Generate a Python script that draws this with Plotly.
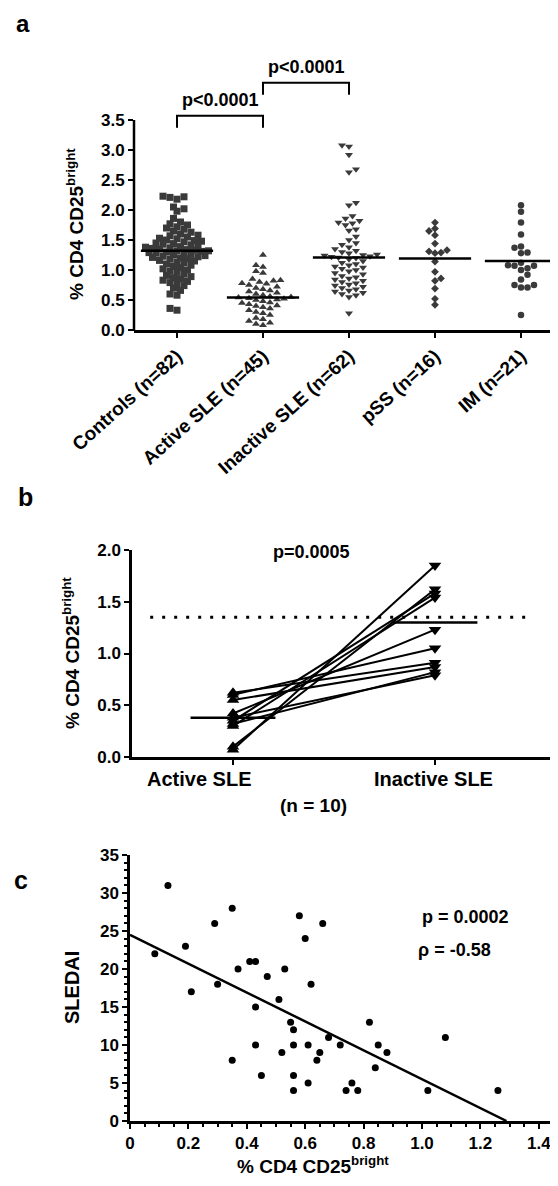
import plotly.graph_objects as go

# ---------------- data ----------------
categories_a = ["Controls (n=82)", "Active SLE (n=45)", "Inactive SLE (n=62)", "pSS (n=16)", "IM (n=21)"]
controls = [2.23, 2.22, 2.21, 2.18, 2.05, 2.02, 1.98, 1.86, 1.80, 1.77,
            1.75, 1.72, 1.70, 1.68, 1.65, 1.63, 1.60, 1.58, 1.57, 1.55,
            1.53, 1.52, 1.50, 1.49, 1.48, 1.47, 1.45, 1.44, 1.43, 1.42,
            1.40, 1.39, 1.38, 1.37, 1.36, 1.35, 1.34, 1.33, 1.32, 1.32,
            1.31, 1.30, 1.29, 1.28, 1.27, 1.26, 1.25, 1.24, 1.23, 1.22,
            1.21, 1.20, 1.19, 1.18, 1.16, 1.15, 1.13, 1.12, 1.10, 1.08,
            1.06, 1.04, 1.02, 1.00, 0.98, 0.96, 0.93, 0.91, 0.89, 0.87,
            0.85, 0.83, 0.81, 0.79, 0.77, 0.74, 0.70, 0.66, 0.60, 0.58,
            0.36, 0.33]
active_sle = [1.25, 1.08, 1.05, 0.98, 0.95, 0.85, 0.83, 0.82, 0.80, 0.78,
              0.77, 0.75, 0.72, 0.70, 0.68, 0.66, 0.64, 0.62, 0.60, 0.58,
              0.56, 0.55, 0.54, 0.53, 0.52, 0.51, 0.50, 0.48, 0.46, 0.45,
              0.43, 0.41, 0.40, 0.38, 0.36, 0.33, 0.30, 0.28, 0.25, 0.20,
              0.18, 0.15, 0.12, 0.10, 0.08]
inactive_sle = [3.08, 3.06, 2.92, 2.68, 2.63, 2.12, 2.08, 1.90, 1.86, 1.82,
                1.79, 1.78, 1.75, 1.68, 1.66, 1.56, 1.50, 1.45, 1.42, 1.38,
                1.35, 1.32, 1.30, 1.28, 1.26, 1.25, 1.24, 1.23, 1.22, 1.21,
                1.20, 1.18, 1.15, 1.12, 1.10, 1.08, 1.06, 1.04, 1.02, 1.00,
                0.98, 0.95, 0.93, 0.90, 0.88, 0.86, 0.84, 0.82, 0.80, 0.78,
                0.76, 0.74, 0.72, 0.70, 0.68, 0.66, 0.64, 0.62, 0.60, 0.58,
                0.55, 0.28]
pss = [1.79, 1.69, 1.65, 1.58, 1.44, 1.33, 1.31, 1.29, 1.28, 1.14,
       0.97, 0.86, 0.82, 0.69, 0.52, 0.42]
im = [2.08, 1.97, 1.79, 1.59, 1.39, 1.37, 1.29, 1.28, 1.12, 1.08,
      1.07, 1.07, 1.03, 1.00, 0.92, 0.84, 0.75, 0.75, 0.71, 0.71, 0.25]
medians_a = [1.32, 0.54, 1.21, 1.19, 1.15]
yticks_a = [0.0, 0.5, 1.0, 1.5, 2.0, 2.5, 3.0, 3.5]

categories_b = ["Active SLE", "Inactive SLE"]
paired_active = [0.62, 0.60, 0.55, 0.42, 0.38, 0.35, 0.32, 0.30, 0.10, 0.07]
paired_inactive = [0.91, 1.05, 0.87, 1.23, 0.79, 1.58, 0.82, 1.54, 1.62, 1.85]
medians_b = [0.38, 1.30]
control_median_b = 1.35
yticks_b = [0.0, 0.5, 1.0, 1.5, 2.0]

cd4_bright = [0.085, 0.13, 0.19, 0.21, 0.29, 0.30, 0.35, 0.35, 0.37, 0.41,
              0.43, 0.43, 0.43, 0.45, 0.47, 0.51, 0.52, 0.53, 0.55, 0.56,
              0.56, 0.56, 0.56, 0.58, 0.60, 0.61, 0.61, 0.62, 0.64, 0.65,
              0.66, 0.68, 0.72, 0.74, 0.76, 0.78, 0.82, 0.84, 0.85, 0.88,
              1.02, 1.08, 1.26]
sledai = [22, 31, 23, 17, 26, 18, 28, 8, 20, 21,
          21, 15, 10, 6, 19, 16, 9, 20, 13, 12,
          10, 6, 4, 27, 24, 10, 5, 18, 8, 9,
          26, 11, 10, 4, 5, 4, 13, 7, 10, 9,
          4, 11, 4]
fit_intercept = 24.5
fit_slope = -19.0
xticks_c = [0, 0.2, 0.4, 0.6, 0.8, 1.0, 1.2, 1.4]
yticks_c = [0, 5, 10, 15, 20, 25, 30, 35]

# ---------------- layout helpers ----------------
W, H = 558, 1186
OFF = 8  # page body margin: figure is drawn 8px right/down of the window corner
FONT = "Liberation Sans, Arial, sans-serif"
def fx(p):
    return (p - OFF) / W
def fy(p):
    return 1 - (p - OFF) / H

# panel a geometry (window pixels)
A_LEFT, A_RIGHT, A_CAT0, A_UNIT = 134, 566, 177, 86.0
A_Y0, A_YU, A_TOP = 330, 60.0, 4.6
# panel b geometry
B_LEFT, B_RIGHT, B_CAT0, B_UNIT = 132, 566, 233, 202.0
B_Y0, B_Y2 = 757, 550
# panel c geometry
C_LEFT, C_RIGHT, C_UNIT = 130, 560, 292.0
C_Y0, C_Y35 = 1121, 855


def swarm(vals, xscale, yscale, diam, fac):
    placed = []
    offs = [0.0] * len(vals)
    order = sorted(range(len(vals)), key=lambda i: vals[i])
    step = diam * 0.5
    for n, i in enumerate(order):
        yp = vals[i] * yscale
        k = 0
        chosen = None
        while chosen is None:
            cands = [0.0] if k == 0 else ([k * step, -k * step] if n % 2 == 0 else [-k * step, k * step])
            for c in cands:
                if all((c - a) ** 2 + (yp - b) ** 2 >= (diam * fac) ** 2 for a, b in placed):
                    chosen = c
                    break
            k += 1
        placed.append((chosen, yp))
        offs[i] = chosen / xscale
    return offs


fig = go.Figure()

# ---------------- panel a ----------------
groups = [controls, active_sle, inactive_sle, pss, im]
symbols = ["square", "triangle-up", "triangle-down", "diamond", "circle"]
sizes = [7, 7, 7, 6, 6.5]
facs = [0.78, 0.85, 0.85, 1.0, 1.0]
for gi, vals in enumerate(groups):
    offs = swarm(vals, A_UNIT, A_YU, sizes[gi], facs[gi])
    fig.add_trace(go.Scatter(
        x=[gi + o for o in offs], y=vals, mode="markers",
        marker=dict(symbol=symbols[gi], size=sizes[gi], color="#3a3a3a", line=dict(width=0)),
        xaxis="x", yaxis="y", showlegend=False, hoverinfo="skip"))
    fig.add_trace(go.Scatter(
        x=[gi - 0.42, gi + 0.42], y=[medians_a[gi]] * 2, mode="lines",
        line=dict(color="black", width=2.5), xaxis="x", yaxis="y",
        showlegend=False, hoverinfo="skip"))

# brackets
for (c0, c1, ytop, ylab) in [(0, 1, 3.57, 3.83), (1, 2, 4.12, 4.38)]:
    fig.add_trace(go.Scatter(
        x=[c0, c0, c1, c1], y=[ytop - 0.2, ytop, ytop, ytop - 0.2], mode="lines",
        line=dict(color="black", width=2), xaxis="x", yaxis="y",
        showlegend=False, hoverinfo="skip"))
    fig.add_annotation(x=(c0 + c1) / 2, y=ylab, xref="x", yref="y", text="p<0.0001",
                       showarrow=False, font=dict(family=FONT, size=18, color="black", weight="bold"))

# ---------------- panel b ----------------
for a, b in zip(paired_active, paired_inactive):
    fig.add_trace(go.Scatter(
        x=[0, 1], y=[a, b], mode="lines+markers",
        line=dict(color="black", width=2),
        marker=dict(symbol=["triangle-up", "triangle-down"], size=11, color="black"),
        xaxis="x2", yaxis="y2", showlegend=False, hoverinfo="skip"))
for ci, m in enumerate(medians_b):
    fig.add_trace(go.Scatter(
        x=[ci - 0.21, ci + 0.21], y=[m, m], mode="lines",
        line=dict(color="black", width=2.5), xaxis="x2", yaxis="y2",
        showlegend=False, hoverinfo="skip"))
fig.add_trace(go.Scatter(
    x=[-0.41, 1.46], y=[control_median_b] * 2, mode="lines",
    line=dict(color="black", width=3, dash="3px,9px"), xaxis="x2", yaxis="y2",
    showlegend=False, hoverinfo="skip"))

# ---------------- panel c ----------------
fig.add_trace(go.Scatter(
    x=cd4_bright, y=sledai, mode="markers",
    marker=dict(symbol="circle", size=7, color="black"),
    xaxis="x3", yaxis="y3", showlegend=False, hoverinfo="skip"))
x_end = -fit_intercept / fit_slope
fig.add_trace(go.Scatter(
    x=[0, x_end], y=[fit_intercept, 0], mode="lines",
    line=dict(color="black", width=2.5), xaxis="x3", yaxis="y3",
    showlegend=False, hoverinfo="skip", cliponaxis=False))

# ---------------- axes ----------------
tickfont = dict(family=FONT, size=17, color="black", weight="bold")
common = dict(showgrid=False, zeroline=False, linecolor="black", linewidth=2.5,
              ticks="outside", tickcolor="black", tickwidth=2, ticklen=5, automargin=False)

fig.update_layout(
    template="none",
    width=W, height=H, autosize=False,
    margin=dict(l=0, r=0, t=0, b=0, pad=0),
    paper_bgcolor="white", plot_bgcolor="white",
    xaxis=dict(domain=[fx(A_LEFT), min(1, fx(A_RIGHT))],
               range=[(A_LEFT - A_CAT0) / A_UNIT, (min(A_RIGHT, W + OFF) - A_CAT0) / A_UNIT],
               anchor="y", showline=True, tickvals=list(range(5)), ticktext=categories_a,
               tickangle=-42, tickfont=dict(family=FONT, size=19, color="black", weight="bold"),
               **common),
    yaxis=dict(domain=[fy(A_Y0), fy(A_Y0 - A_TOP * A_YU)], range=[0, A_TOP],
               anchor="x", showline=False, tickvals=yticks_a,
               ticktext=[f"{v:.1f}" for v in yticks_a], tickfont=tickfont, **common),
    xaxis2=dict(domain=[fx(B_LEFT), min(1, fx(B_RIGHT))],
                range=[(B_LEFT - B_CAT0) / B_UNIT, (min(B_RIGHT, W + OFF) - B_CAT0) / B_UNIT],
                anchor="y2", showline=True, tickvals=[0, 1], showticklabels=False, **common),
    yaxis2=dict(domain=[fy(B_Y0), fy(B_Y2)], range=[0, 2.0], anchor="x2", showline=True,
                tickvals=yticks_b, ticktext=[f"{v:.1f}" for v in yticks_b], tickfont=tickfont,
                **common),
    xaxis3=dict(domain=[fx(C_LEFT), min(1, fx(C_RIGHT))],
                range=[0, (min(C_RIGHT, W + OFF) - C_LEFT) / C_UNIT],
                anchor="y3", showline=True, tickvals=xticks_c,
                ticktext=["0"] + [f"{v:.1f}" for v in xticks_c[1:]],
                tickfont=tickfont,
                minor=dict(ticks="outside", dtick=0.05, ticklen=3, tickwidth=1.5, tickcolor="black"),
                **common),
    yaxis3=dict(domain=[fy(C_Y0), fy(C_Y35)], range=[0, 35], anchor="x3", showline=True,
                tickvals=yticks_c, ticktext=[str(v) for v in yticks_c],
                tickfont=tickfont,
                minor=dict(ticks="outside", dtick=1, ticklen=3, tickwidth=1.5, tickcolor="black"),
                **common),
)

# panel a y axis line (only up to 3.5)
fig.add_shape(type="line", xref="paper", yref="paper",
              x0=fx(A_LEFT), x1=fx(A_LEFT), y0=fy(A_Y0 + 1), y1=fy(A_Y0 - 3.5 * A_YU),
              line=dict(color="black", width=2.5))

# ---------------- text annotations ----------------
def note(text, x, y, size, angle=0, xanchor="center"):
    fig.add_annotation(x=fx(x), y=fy(y), xref="paper", yref="paper", text=text,
                       showarrow=False, textangle=angle, xanchor=xanchor, yanchor="middle",
                       font=dict(family=FONT, size=size, color="black", weight="bold"))

ylabel = "% CD4 CD25<sup>bright</sup>"
note("a", 23, 24, 24)
note(ylabel, 75, 224, 19, angle=-90)

note("b", 25, 497, 25)
note(ylabel, 71, 653, 19, angle=-90)
note("p=0.0005", 311, 552, 18)
note(categories_b[0], 199, 779, 20)
note(categories_b[1], 433, 779, 20)
note("(n = 10)", 313, 805, 19)

note("c", 21, 880, 25)
note("SLEDAI", 72, 988, 20, angle=-90)
note(ylabel, 313, 1165, 19)
note("p = 0.0002", 420, 917, 18, xanchor="left")
note("ρ = -0.58", 416, 950, 18, xanchor="left")

fig.write_html("out.html")
